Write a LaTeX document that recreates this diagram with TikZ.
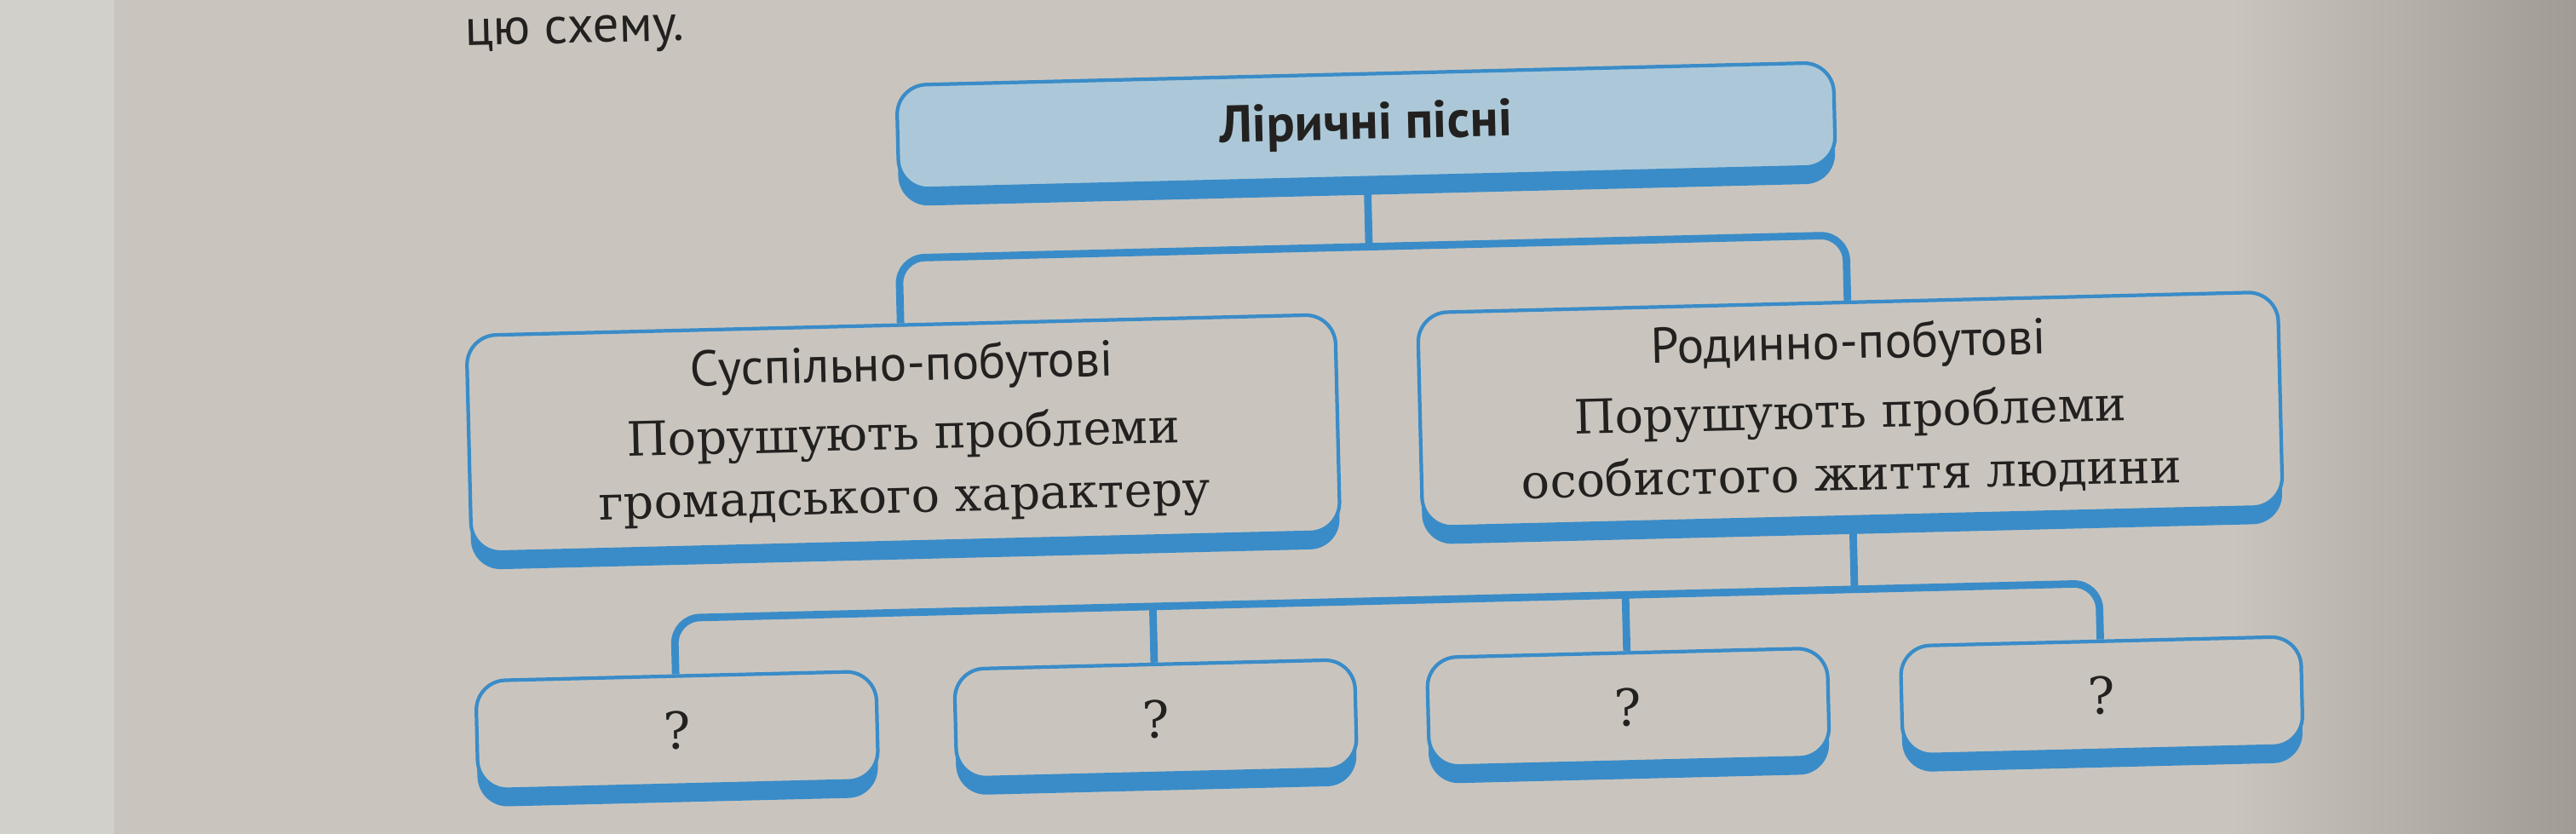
\documentclass[tikz,border=0pt]{standalone}
\usepackage{fontspec}
\setmainfont{DejaVu Serif}
\newfontfamily\headfont{PT Sans}
\usetikzlibrary{shadows}

\definecolor{paper}{RGB}{201,197,190}
\definecolor{paperedge}{RGB}{210,208,203}
\definecolor{paperdark}{RGB}{160,155,147}
\definecolor{ink}{RGB}{35,33,32}
\definecolor{lineblue}{RGB}{58,140,200}
\definecolor{topfill}{RGB}{172,200,216}

\begin{document}
\begin{tikzpicture}[
	every node/.style = {font = \fontsize{15.8}{21}\selectfont, text = ink},
	box/.style = {draw = lineblue, line width = 1.2pt, rounded corners = 0.35cm, fill = paper, align = center, inner sep = 0pt,
		drop shadow = {shadow xshift = 0cm, shadow yshift = -0.2cm, fill = lineblue, opacity = 1}},
	link/.style = {draw = lineblue, line width = 2.5pt, rounded corners = 0.3cm}
]

	% Page behind the scheme
	
	\useasboundingbox (0, 0) rectangle (30.24, -9.79);
	\fill [paper] (0, 0) rectangle (30.24, -9.79);
	\fill [paperedge] (0, 0) rectangle (1.34, -9.79);
	\shade [left color = paper, right color = paperdark] (26.2, 0) rectangle (30.24, -9.79);
	
	\begin{scope}[rotate around = {1.4:(15.12, -4.90)}, transform shape]
	
		\node (task) [anchor = base west, font = {\headfont\fontsize{17.3}{20}\selectfont}] at (5.45, -0.30) {цю схему.};
	
		% Boxes
		
		\node (lyric) [box, fill = topfill, minimum width = 11cm, minimum height = 1.22cm] at (16.12, -1.50)
			{\headfont\bfseries\fontsize{17.5}{20}\selectfont Ліричні пісні};
		
		\node (social) [box, minimum width = 10.2cm, minimum height = 2.55cm] at (10.60, -4.98)
			{{\headfont\fontsize{16.8}{20}\selectfont Суспільно-побутові}\\[2pt] Порушують проблеми\\ громадського характеру};
		\node (family) [box, minimum width = 10.1cm, minimum height = 2.52cm] at (21.72, -4.97)
			{{\headfont\fontsize{16.8}{20}\selectfont Родинно-побутові}\\[2pt] Порушують проблеми\\ особистого життя людини};
		
		\foreach \x [count = \i] in {7.86, 13.48, 19.03, 24.59}
			\node (ask\i) [box, minimum width = 4.7cm, minimum height = 1.28cm,
				drop shadow = {shadow xshift = 0cm, shadow yshift = -0.18cm, fill = lineblue, opacity = 1}] at (\x, -8.40)
				{\fontsize{17}{20}\selectfont ?};
		
		% Connectors
		
		\coordinate (forkM) at (16.12, -2.92);
		\coordinate (forkL) at (10.60, -2.92);
		\coordinate (forkR) at (21.72, -2.92);
		\coordinate (splitM) at (21.72, -7.08);
		\coordinate (splitL) at (7.86, -7.08);
		\coordinate (splitR) at (24.59, -7.08);
		\coordinate (split2) at (13.48, -7.08);
		\coordinate (split3) at (19.03, -7.08);
		
		\draw [link] (lyric.south) -- (forkM);
		\draw [link] (social.north) -- (forkL) -- (forkR) -- (family.north);
		\draw [link] (family.south) -- (splitM);
		\draw [link] (ask1.north) -- (splitL) -- (splitR) -- (ask4.north);
		\draw [link] (ask2.north) -- (split2);
		\draw [link] (ask3.north) -- (split3);
	
	\end{scope}
	
\end{tikzpicture}
\end{document}
